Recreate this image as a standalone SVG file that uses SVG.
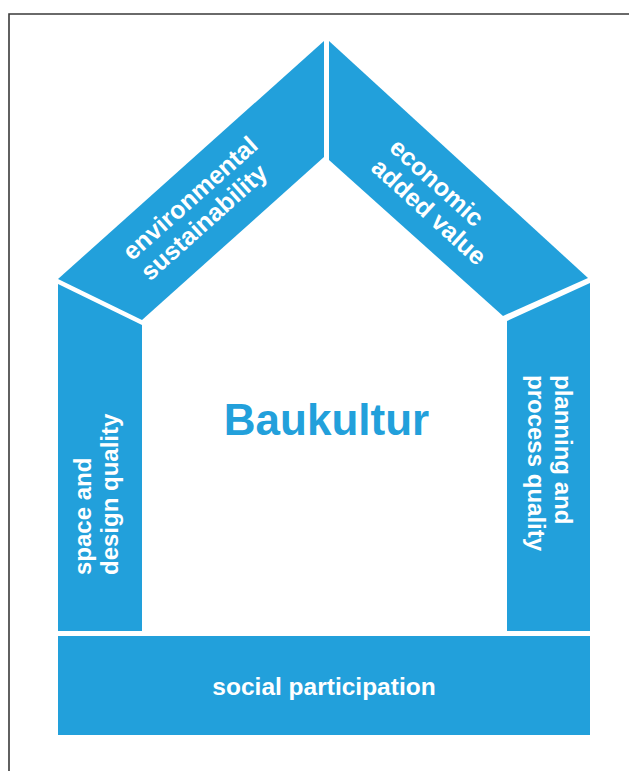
<svg xmlns="http://www.w3.org/2000/svg" width="629" height="771" viewBox="0 0 629 771">
<style>
.blk{fill:#22a0db;}
.lbl{fill:#ffffff;font-family:"Liberation Sans",Arial,sans-serif;font-weight:bold;font-size:24px;}
.roof{font-size:25px;}
.title{fill:#22a0db;font-family:"Liberation Sans",Arial,sans-serif;font-weight:bold;font-size:44px;}
</style>
<rect x="0" y="0" width="629" height="771" fill="#ffffff"/>
<path d="M9,771 V14 H629" fill="none" stroke="#3a3a3a" stroke-width="1.6"/>
<g id="environmental-sustainability">
<polygon class="blk" points="58,279 324,41 324,157 142,320"/>
<g transform="translate(132,261.5) rotate(-41.8)">
<text class="lbl roof"><tspan x="0" y="0">environmental</tspan><tspan x="0" dy="27">sustainability</tspan></text>
</g>
</g>
<g id="economic-added-value">
<polygon class="blk" points="329,41 588,278 503,316 329,160"/>
<g transform="translate(388,149.5) rotate(42.3)">
<text class="lbl roof"><tspan x="0" y="0">economic</tspan><tspan x="0" dy="27">added value</tspan></text>
</g>
</g>
<g id="space-and-design-quality">
<polygon class="blk" points="58,284 142,325 142,631 58,631"/>
<g transform="translate(91,575) rotate(-90)">
<text class="lbl"><tspan x="0" y="0">space and</tspan><tspan x="0" dy="27">design quality</tspan></text>
</g>
</g>
<g id="planning-and-process-quality">
<polygon class="blk" points="507,321 590,283 590,631 507,631"/>
<g transform="translate(555,375) rotate(90)">
<text class="lbl"><tspan x="0" y="0">planning and</tspan><tspan x="0" dy="27">process quality</tspan></text>
</g>
</g>
<g id="social-participation">
<rect class="blk" x="58" y="636" width="532" height="99"/>
<text class="lbl" x="324" y="695" text-anchor="middle" style="font-size:24.5px">social participation</text>
</g>
<g id="baukultur">
<text class="title" x="326.5" y="435" text-anchor="middle">Baukultur</text>
</g>
<g id="connectors"></g>
</svg>
